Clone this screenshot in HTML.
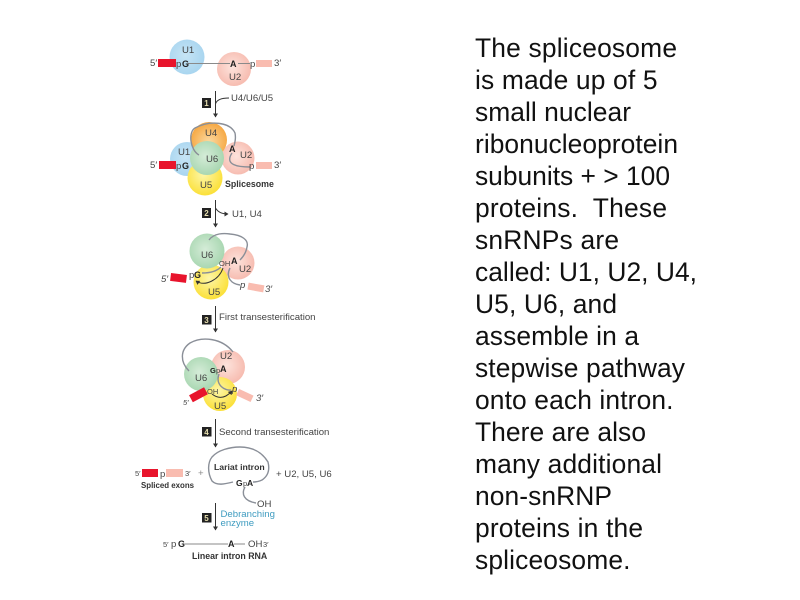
<!DOCTYPE html>
<html><head><meta charset="utf-8"><style>
html,body{margin:0;padding:0;background:#fff}
svg{display:block}
text{font-family:"Liberation Sans",sans-serif}
.r{font-size:26.4px;fill:#111}
.l{font-size:9.6px;fill:#444}
.s{font-size:7.5px;fill:#444}
.b{font-size:8.8px;font-weight:bold;fill:#333}
.g{font-size:9px;font-weight:bold;fill:#222}
.n{font-size:8px;font-weight:bold;fill:#e8e0b0;text-anchor:middle}
.c{fill:none;stroke:#8a8f98;stroke-width:1.4}
.k{fill:none;stroke:#333;stroke-width:1}
#d{filter:blur(.35px)}
</style></head><body>
<svg width="800" height="600" viewBox="0 0 800 600" xmlns="http://www.w3.org/2000/svg">
<defs>
<radialGradient id="bl" cx=".45" cy=".45" r=".6"><stop offset="0" stop-color="#c6e4f5"/><stop offset="1" stop-color="#a6d4ef"/></radialGradient>
<radialGradient id="pk" cx=".45" cy=".45" r=".6"><stop offset="0" stop-color="#fde3dc"/><stop offset="1" stop-color="#f6b9ad"/></radialGradient>
<radialGradient id="gr" cx=".45" cy=".45" r=".6"><stop offset="0" stop-color="#d5ecd8"/><stop offset="1" stop-color="#a5d5ae"/></radialGradient>
<radialGradient id="ye" cx=".45" cy=".4" r=".6"><stop offset="0" stop-color="#fdf6a8"/><stop offset="1" stop-color="#fbe038"/></radialGradient>
<radialGradient id="or" cx=".5" cy=".55" r=".6"><stop offset="0" stop-color="#fbd9a0"/><stop offset="1" stop-color="#f5a238"/></radialGradient>
<marker id="ar" markerWidth="5" markerHeight="5" refX="3.5" refY="2.5" orient="auto"><path d="M0,0L4,2.5L0,5z" fill="#333"/></marker>
</defs>

<g id="d">
<!-- Stage 0 -->
<circle cx="187" cy="57" r="17.500" fill="url(#bl)"/>
<circle cx="234" cy="69" r="17" fill="url(#pk)"/>
<rect x="158" y="59" width="18" height="8" fill="#e8142c"/>
<rect x="256" y="60" width="16" height="7" fill="#f9bcb0"/>
<path d="M188 63.500H230M238 63.500H250" stroke="#8a8a8a" stroke-width="1"/>
<text class="l" x="150" y="66">5′</text>
<text class="l" x="176" y="67">p</text><text class="g" x="182" y="67">G</text>
<text class="g" x="230" y="67">A</text><text class="l" x="250" y="67">p</text>
<text class="l" x="274" y="66">3′</text>
<text class="l" x="182" y="53">U1</text><text class="l" x="229" y="80">U2</text>
<rect x="202" y="98" width="9" height="10" fill="#222"/><text class="n" x="206.500" y="106">1</text>
<path class="k" d="M215.500 91V117" marker-end="url(#ar)"/>
<path class="k" d="M215.500 104Q217 98 229 98"/>
<text class="l" x="231" y="101">U4/U6/U5</text>

<!-- Stage 1 -->
<circle cx="187" cy="159" r="17" fill="url(#bl)"/>
<circle cx="238" cy="158" r="16.500" fill="url(#pk)"/>
<circle cx="209" cy="140" r="18" fill="url(#or)"/>
<circle cx="205" cy="178" r="17.500" fill="url(#ye)"/>
<circle cx="207" cy="158" r="17" fill="url(#gr)"/>
<rect x="159" y="161" width="17" height="8" fill="#e8142c"/>
<rect x="256" y="162" width="16" height="7" fill="#f9bcb0"/>
<path class="c" d="M199 155C190 150 188 132 195 128C210 120 230 122 235 133C236 138 235 142 234 146"/>
<path class="c" d="M232 153C224 165 238 167 250 167"/>
<text class="l" x="150" y="168">5′</text>
<text class="l" x="176" y="169">p</text><text class="g" x="182" y="169">G</text>
<text class="g" x="229" y="152">A</text><text class="l" x="249" y="169">p</text>
<text class="l" x="274" y="168">3′</text>
<text class="l" x="178" y="155">U1</text><text class="l" x="205" y="136">U4</text>
<text class="l" x="206" y="162">U6</text><text class="l" x="240" y="158">U2</text>
<text class="l" x="200" y="188">U5</text>
<text class="b" x="225" y="187">Splicesome</text>
<rect x="202" y="208" width="9" height="10" fill="#222"/><text class="n" x="206.500" y="216">2</text>
<path class="k" d="M215.500 200V227" marker-end="url(#ar)"/>
<path class="k" d="M215.500 208Q219 214 228 214" marker-end="url(#ar)"/>
<text class="l" x="232" y="217">U1, U4</text>

<!-- Stage 2 -->
<circle cx="238" cy="263" r="16.500" fill="url(#pk)"/>
<circle cx="211" cy="282" r="17.500" fill="url(#ye)"/>
<circle cx="207" cy="251" r="17.500" fill="url(#gr)"/>
<rect x="170.500" y="274" width="16" height="8" fill="#e8142c" transform="rotate(7 179 278)"/>
<rect x="248" y="284" width="16" height="7" fill="#f9bcb0" transform="rotate(10 256 287)"/>
<path class="c" d="M209 240C214 233 224 233 230 234C242 235 249 240 247 247C246 253 243 257 240 260"/>
<path class="c" d="M230 268C225 278 232 284 240 285"/>
<path class="c" d="M202 273C210 273 217 271 221 267" stroke="#555"/>
<path class="k" d="M223 268C219 280 205 287 196 281" marker-end="url(#ar)"/>
<text class="l" x="161" y="282" style="font-style:italic">5′</text>
<text class="l" x="189" y="278">p</text><text class="g" x="194" y="278">G</text>
<text class="s" x="219" y="266">OH</text><text class="g" x="231" y="264">A</text>
<text class="l" x="240" y="288" style="font-style:italic">p</text>
<text class="l" x="265" y="292" style="font-style:italic">3′</text>
<text class="l" x="201" y="258">U6</text><text class="l" x="239" y="272">U2</text>
<text class="l" x="208" y="295">U5</text>
<rect x="202" y="315" width="9.500" height="9.500" fill="#222"/><text class="n" x="206.500" y="323">3</text>
<path class="k" d="M215.500 306V332" marker-end="url(#ar)"/>
<text class="l" x="219" y="320">First transesterification</text>

<!-- Stage 3 -->
<circle cx="228" cy="367" r="17" fill="url(#pk)"/>
<circle cx="220" cy="394" r="17" fill="url(#ye)"/>
<circle cx="201" cy="374" r="17" fill="url(#gr)"/>
<rect x="190" y="391" width="17" height="8" fill="#e8142c" transform="rotate(-28 198 395)"/>
<rect x="237" y="392" width="16" height="7" fill="#f9bcb0" transform="rotate(25 245 395)"/>
<path class="c" d="M189 371C180 362 180 350 190 343C202 336 222 338 233 352"/>
<path class="c" d="M219 374C215 385 225 391 231 390"/>
<path class="k" d="M212 394Q222 402 232 391" marker-end="url(#ar)"/>
<text class="l" x="183" y="405" style="font-style:italic;font-size:7.500px">5′</text>
<text class="s" x="207" y="394">OH</text>
<text class="l" x="232" y="392" style="font-style:italic">p</text>
<text class="l" x="256" y="401" style="font-style:italic">3′</text>
<text class="g" x="210" y="373" style="font-size:7.500px">G</text><text class="s" x="216" y="373">p</text><text class="g" x="220" y="372">A</text>
<text class="l" x="195" y="381">U6</text><text class="l" x="220" y="359">U2</text>
<text class="l" x="214" y="409">U5</text>
<rect x="202" y="427" width="9.500" height="9.500" fill="#222"/><text class="n" x="206.500" y="435">4</text>
<path class="k" d="M215.500 419V447" marker-end="url(#ar)"/>
<text class="l" x="219" y="435">Second transesterification</text>

<!-- Stage 4 -->
<rect x="142" y="469" width="16" height="8" fill="#e8142c"/>
<rect x="166" y="469" width="17" height="8" fill="#f9bcb0"/>
<text class="s" x="135" y="476">5′</text><text class="l" x="160" y="477">p</text>
<text class="s" x="185" y="476">3′</text><text class="l" x="198" y="476" style="fill:#888">+</text>
<text class="b" x="141" y="488" style="font-size:7.900px">Spliced exons</text>
<path class="c" d="M233 482C225 484 217 486 212 481C207 472 208 462 212 457C218 450 230 447 240 447C252 447 262 452 268 462C270 470 268 476 262 480C258 482 255 482 253 482"/>
<path class="c" d="M245 487C241 494 244 501 256 503"/>
<text class="b" x="214" y="470" style="font-size:8.700px">Lariat intron</text>
<text class="g" x="236" y="486" style="font-size:8.500px">G</text><text class="l" x="243" y="486" style="font-size:7.500px">p</text><text class="g" x="247" y="486" style="font-size:8.500px">A</text>
<text class="l" x="257" y="507">OH</text>
<text class="l" x="276" y="477">+ U2, U5, U6</text>
<rect x="202" y="513" width="9.500" height="9.500" fill="#222"/><text class="n" x="206.500" y="521">5</text>
<path class="k" d="M215.500 503V530" marker-end="url(#ar)"/>
<text class="l" x="220.500" y="517" style="fill:#3f9cc0">Debranching</text>
<text class="l" x="220.500" y="526" style="fill:#3f9cc0">enzyme</text>

<!-- Stage 5 -->
<path d="M185 544H228M234 544H245" stroke="#8a8a8a" stroke-width="1"/>
<text class="s" x="163" y="547">5′</text><text class="l" x="171" y="547">p</text>
<text class="g" x="178" y="547">G</text><text class="g" x="228" y="547">A</text>
<text class="l" x="248" y="547">OH</text><text class="s" x="263" y="547">3′</text>
<text class="b" x="192" y="559">Linear intron RNA</text>
</g>

<!-- Right text -->
<text class="r" x="475" y="57" textLength="202">The spliceosome</text>
<text class="r" x="475" y="89" textLength="182.500">is made up of 5</text>
<text class="r" x="475" y="121" textLength="156">small nuclear</text>
<text class="r" x="475" y="153" textLength="203">ribonucleoprotein</text>
<text class="r" x="475" y="185" textLength="195">subunits + &gt; 100</text>
<text class="r" x="475" y="217" xml:space="preserve" textLength="192">proteins.  These</text>
<text class="r" x="475" y="249" textLength="144">snRNPs are</text>
<text class="r" x="475" y="281" textLength="222">called: U1, U2, U4,</text>
<text class="r" x="475" y="313" textLength="142">U5, U6, and</text>
<text class="r" x="475" y="345" textLength="164">assemble in a</text>
<text class="r" x="475" y="377" textLength="210">stepwise pathway</text>
<text class="r" x="475" y="409" textLength="198.500">onto each intron.</text>
<text class="r" x="475" y="441" textLength="171">There are also</text>
<text class="r" x="475" y="473" textLength="187">many additional</text>
<text class="r" x="475" y="505" textLength="137">non-snRNP</text>
<text class="r" x="475" y="537" textLength="168">proteins in the</text>
<text class="r" x="475" y="569" textLength="155.500">spliceosome.</text>
</svg>
</body></html>
